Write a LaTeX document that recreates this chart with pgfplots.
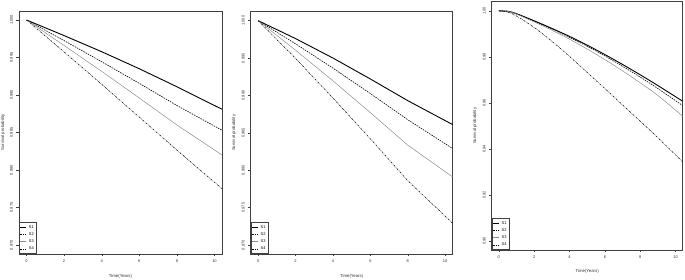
\documentclass[border=0pt]{standalone}
\usepackage{pgfplots}
\pgfplotsset{compat=1.18}
\usepackage{fontspec}
\setmainfont{Liberation Sans}
\begin{document}
\begin{tikzpicture}[x=1pt,y=1pt]
\path[use as bounding box] (0,0) rectangle (685,280);
\pgfplotsset{
 rstyle/.style={
  scale only axis,
  axis line style={black!75, line width=0.5pt},
  xmin=-0.4, xmax=10.4,
  xtick={0,2,4,6,8,10},
  tick align=outside, tick pos=left, major tick length=2.5pt,
  tick style={black!75, line width=0.4pt},
  /pgf/number format/assume math mode=true,
  tick label style={font=\fontsize{4}{5}\selectfont, text=black!80},
  yticklabel style={rotate=90, anchor=south},
  xlabel={Time(Years)}, ylabel={Survival probability},
  label style={font=\fontsize{4.3}{5}\selectfont, text=black!80},
  xlabel style={at={(axis description cs:0.5,0)}, anchor=center, yshift=-22pt},
  legend style={at={(0,0)}, anchor=south west, font=\fontsize{4}{4.5}\selectfont,
    draw=black!75, line width=0.5pt, inner sep=0.8pt, row sep=-1.2pt, cells={anchor=west}},
  legend image code/.code={\draw[#1] (0pt,0pt) -- (6pt,0pt);},
  legend cell align=left,
 },
 s1/.style={black, line width=0.9pt},
 s2/.style={black, line width=0.6pt, dash pattern=on 1.5pt off 1pt},
 s3/.style={black!45, line width=0.5pt},
 s4/.style={black, line width=0.5pt, dash pattern=on 2pt off 1pt on 0.5pt off 1pt},
}
% Panel 1
\begin{axis}[rstyle, at={(19pt,26pt)}, anchor=south west, width=203pt, height=243pt,
  ymin=0.9688, ymax=1.0012, ytick={0.970,0.975,0.980,0.985,0.990,0.995,1.000},
  yticklabel={\pgfmathprintnumber[fixed,fixed zerofill,precision=3]{\tick}},
  ylabel style={at={(axis description cs:-0.079,0.5)}, anchor=center}]
\addplot[s1] coordinates {(0,1) (2,0.99792) (4,0.99577) (6,0.99350) (8,0.99110) (10.4,0.9881)};
\addplot[s2] coordinates {(0,1) (2,0.99725) (4,0.99443) (6,0.99155) (8,0.98860) (10.4,0.9853)};
\addplot[s3] coordinates {(0,1) (2,0.99660) (4,0.99315) (6,0.98960) (8,0.98600) (10.4,0.9820)};
\addplot[s4] coordinates {(0,1) (2,0.99575) (4,0.99142) (6,0.98705) (8,0.98265) (10.4,0.9775)};
\legend{S1,S2,S3,S4}
\end{axis}
% Panel 2
\begin{axis}[rstyle, at={(250.7pt,26pt)}, anchor=south west, width=202pt, height=242.3pt,
  ymin=0.9688, ymax=1.0012, ytick={0.970,0.975,0.980,0.985,0.990,0.995,1.000},
  yticklabel={\pgfmathprintnumber[fixed,fixed zerofill,precision=3]{\tick}},
  ylabel style={at={(axis description cs:-0.083,0.5)}, anchor=center}]
\addplot[s1] coordinates {(0,1) (2,0.99760) (4,0.99500) (6,0.99220) (8,0.98930) (10.4,0.9861)};
\addplot[s2] coordinates {(0,1) (2,0.99690) (4,0.99365) (6,0.99025) (8,0.98675) (10.4,0.9829)};
\addplot[s3] coordinates {(0,1) (2,0.99605) (4,0.99195) (6,0.98770) (8,0.98335) (10.4,0.9791)};
\addplot[s4] coordinates {(0,1) (2,0.99495) (4,0.98965) (6,0.98420) (8,0.97860) (10.4,0.9729)};
\legend{S1,S2,S3,S4}
\end{axis}
% Panel 3
\begin{axis}[rstyle, at={(491.7pt,30pt)}, anchor=south west, width=191pt, height=248.3pt,
  ymin=0.896, ymax=1.004, ytick={0.90,0.92,0.94,0.96,0.98,1.00},
  yticklabel={\pgfmathprintnumber[fixed,fixed zerofill,precision=2]{\tick}},
  ylabel style={at={(axis description cs:-0.087,0.5)}, anchor=center},
  xlabel style={yshift=1pt}]
\addplot[s1, smooth] coordinates {(0,1) (0.5,0.99985) (1,0.9988) (2,0.9957) (3,0.9924) (4,0.9889) (5,0.9851) (6,0.9810) (7,0.9767) (8,0.9722) (9,0.9675) (10.4,0.9607)};
\addplot[s2, smooth] coordinates {(0,1) (0.5,0.9998) (1,0.9987) (2,0.9955) (3,0.9921) (4,0.9885) (5,0.9846) (6,0.9804) (7,0.9759) (8,0.9712) (9,0.9662) (10.4,0.9588)};
\addplot[s3, smooth] coordinates {(0,1) (0.5,0.9998) (1,0.9986) (2,0.9952) (3,0.9916) (4,0.9877) (5,0.9834) (6,0.9788) (7,0.9739) (8,0.9687) (9,0.9632) (10.4,0.9542)};
\addplot[s4, smooth] coordinates {(0,1) (0.5,0.9995) (1,0.9978) (2,0.9928) (3,0.9868) (4,0.9802) (5,0.9732) (6,0.9662) (7,0.9591) (8,0.9520) (9,0.9448) (10.4,0.9343)};
\legend{S1,S2,S3,S4}
\end{axis}
\end{tikzpicture}
\end{document}
